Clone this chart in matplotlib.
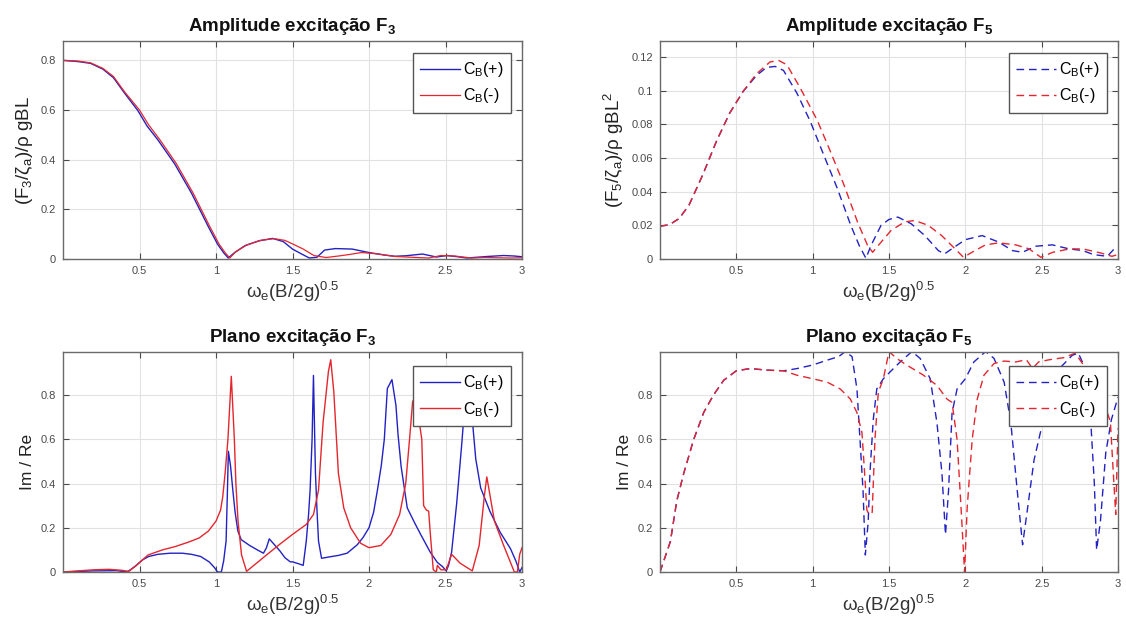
import matplotlib
matplotlib.use("Agg")
import matplotlib.pyplot as plt
import numpy as np

plt.rcParams['font.family'] = ['Liberation Sans', 'DejaVu Sans']
plt.rcParams['mathtext.fontset'] = 'custom'
plt.rcParams['mathtext.rm'] = 'Liberation Sans'
plt.rcParams['mathtext.it'] = 'Liberation Sans:italic'
plt.rcParams['mathtext.default'] = 'regular'

# ---------------- data ----------------
# Heave excitation amplitude, F3
f3_amp_x_pos = [0, 0.1, 0.18, 0.26, 0.33, 0.4, 0.49, 0.55, 0.62, 0.73, 0.84, 0.95, 1.01, 1.05, 1.08,
                1.12, 1.19, 1.28, 1.37, 1.44, 1.5, 1.56, 1.61, 1.66, 1.71, 1.78, 1.89, 2.0, 2.1, 2.17,
                2.24, 2.35, 2.44, 2.51, 2.58, 2.64, 2.77, 2.88, 2.95, 3.0]
f3_amp_pos = [0.80, 0.795, 0.788, 0.765, 0.73, 0.67, 0.597, 0.535, 0.48, 0.383, 0.265, 0.13, 0.06, 0.025,
              0.004, 0.025, 0.054, 0.073, 0.083, 0.07, 0.04, 0.02, 0.004, 0.007, 0.036, 0.042, 0.04,
              0.026, 0.016, 0.011, 0.013, 0.02, 0.008, 0.014, 0.009, 0.004, 0.01, 0.014, 0.012, 0.009]
f3_amp_x_neg = [0, 0.1, 0.18, 0.26, 0.33, 0.4, 0.5, 0.56, 0.63, 0.74, 0.85, 0.96, 1.02, 1.06, 1.09,
                1.13, 1.2, 1.29, 1.38, 1.45, 1.51, 1.57, 1.64, 1.72, 1.8, 1.87, 1.95, 2.05, 2.17, 2.28,
                2.39, 2.47, 2.56, 2.67, 2.76, 2.83, 2.93, 3.0]
f3_amp_neg = [0.80, 0.797, 0.79, 0.768, 0.735, 0.675, 0.6, 0.54, 0.483, 0.385, 0.266, 0.13, 0.06, 0.025,
              0.004, 0.03, 0.056, 0.075, 0.082, 0.075, 0.058, 0.04, 0.014, 0.006, 0.012, 0.018, 0.026,
              0.021, 0.01, 0.007, 0.004, 0.014, 0.012, 0.004, 0.006, 0.005, 0.004, 0.005]

# Pitch excitation amplitude, F5
f5_amp_x_pos = [0.0, 0.06, 0.125, 0.19, 0.28, 0.37, 0.456, 0.544, 0.632, 0.698, 0.754, 0.809, 0.897,
                0.985, 1.073, 1.162, 1.25, 1.305, 1.349, 1.382, 1.448, 1.5, 1.558, 1.646, 1.735, 1.823,
                1.863, 1.911, 2.0, 2.11, 2.22, 2.308, 2.374, 2.462, 2.57, 2.68, 2.77, 2.84, 2.93, 2.97, 3.0]
f5_amp_pos = [0.0195, 0.0203, 0.024, 0.032, 0.05, 0.07, 0.0866, 0.0995, 0.109, 0.1138, 0.1144, 0.112,
              0.0985, 0.0816, 0.0617, 0.0418, 0.0199, 0.008, 0.0004, 0.008, 0.02, 0.0235, 0.0249, 0.0209,
              0.0139, 0.005, 0.003, 0.006, 0.0115, 0.0139, 0.01, 0.005, 0.004, 0.0076, 0.0084, 0.006,
              0.005, 0.0026, 0.0016, 0.0055, 0.0065]
f5_amp_x_neg = [0.0, 0.06, 0.125, 0.19, 0.28, 0.37, 0.456, 0.544, 0.632, 0.72, 0.776, 0.831, 0.919,
                1.029, 1.117, 1.206, 1.294, 1.36, 1.393, 1.448, 1.514, 1.602, 1.668, 1.757, 1.845, 1.933,
                1.988, 2.044, 2.132, 2.22, 2.33, 2.418, 2.495, 2.573, 2.683, 2.77, 2.886, 2.96, 3.0]
f5_amp_neg = [0.0195, 0.0203, 0.024, 0.032, 0.05, 0.07, 0.0866, 0.0995, 0.110, 0.117, 0.118, 0.1154,
              0.1015, 0.0826, 0.0637, 0.0438, 0.0219, 0.008, 0.004, 0.01, 0.017, 0.022, 0.0229, 0.02,
              0.0139, 0.006, 0.001, 0.004, 0.0084, 0.0096, 0.0084, 0.006, 0.001, 0.004, 0.006, 0.006,
              0.0036, 0.0016, 0.0026]

# Im/Re ratio of F3
f3_pl_x_pos = [0, 0.2, 0.35, 0.42, 0.47, 0.52, 0.56, 0.62, 0.7, 0.78, 0.84, 0.9, 0.955, 0.99, 1.01,
               1.035, 1.05, 1.066, 1.074, 1.081, 1.095, 1.11, 1.125, 1.143, 1.165, 1.22, 1.27, 1.31,
               1.33, 1.348, 1.38, 1.418, 1.45, 1.485, 1.5, 1.537, 1.57, 1.59, 1.605, 1.615, 1.628, 1.637,
               1.644, 1.65, 1.66, 1.67, 1.69, 1.747, 1.8, 1.857, 1.923, 1.96, 2.0, 2.03, 2.055, 2.08,
               2.1, 2.12, 2.15, 2.176, 2.19, 2.21, 2.25, 2.3, 2.34, 2.4, 2.447, 2.48, 2.505, 2.52, 2.54,
               2.573, 2.607, 2.625, 2.645, 2.665, 2.675, 2.698, 2.73, 2.79, 2.857, 2.925, 2.96, 2.985, 3.0]
f3_pl_pos = [0, 0.005, 0.006, 0.0, 0.025, 0.055, 0.07, 0.08, 0.085, 0.085, 0.08, 0.07, 0.046, 0.02, 0.0,
             0.0, 0.05, 0.14, 0.35, 0.546, 0.48, 0.37, 0.27, 0.185, 0.146, 0.12, 0.1, 0.085,
             0.11, 0.15, 0.125, 0.095, 0.065, 0.046, 0.046, 0.038, 0.03, 0.14, 0.26, 0.37, 0.6, 0.889,
             0.65, 0.446, 0.28, 0.14, 0.062, 0.069, 0.075, 0.085, 0.123, 0.155, 0.2, 0.27, 0.37, 0.48,
             0.6, 0.83, 0.87, 0.754, 0.62, 0.477, 0.29, 0.22, 0.167, 0.09, 0.043, 0.025, 0.005, 0.03, 0.09,
             0.31, 0.585, 0.75, 0.85, 0.76, 0.69, 0.51, 0.38, 0.275, 0.18, 0.105, 0.05, 0.0, 0.02]
f3_pl_x_neg = [0, 0.1, 0.2, 0.3, 0.38, 0.43, 0.48, 0.556, 0.65, 0.733, 0.82, 0.89, 0.95, 1.0, 1.03,
               1.044, 1.06, 1.078, 1.1, 1.12, 1.13, 1.144, 1.167, 1.2, 1.3, 1.416, 1.5, 1.59, 1.637,
               1.67, 1.7, 1.735, 1.75, 1.77, 1.8, 1.835, 1.88, 1.945, 2.0, 2.077, 2.143, 2.2, 2.24,
               2.265, 2.285, 2.3, 2.32, 2.345, 2.357, 2.375, 2.39, 2.4, 2.42, 2.44, 2.447, 2.47, 2.505,
               2.54, 2.595, 2.675, 2.72, 2.755, 2.77, 2.79, 2.82, 2.88, 2.95, 2.97, 2.985, 3.0]
f3_pl_neg = [0, 0.005, 0.01, 0.012, 0.008, 0.003, 0.03, 0.077, 0.1, 0.115, 0.135, 0.154, 0.185, 0.23,
             0.28, 0.34, 0.45, 0.6, 0.885, 0.6, 0.4, 0.23, 0.077, 0.003, 0.06, 0.125, 0.17, 0.215, 0.26,
             0.37, 0.677, 0.908, 0.96, 0.815, 0.446, 0.29, 0.2, 0.13, 0.11, 0.12, 0.17, 0.26, 0.4,
             0.6, 0.77, 0.79, 0.72, 0.6, 0.3, 0.28, 0.275, 0.18, 0.01, 0.0, 0.03, 0.01, 0.01,
             0.08, 0.04, 0.005, 0.12, 0.35, 0.43, 0.35, 0.23, 0.12, 0.0, 0.0, 0.08, 0.11]

# Im/Re ratio of F5
f5_pl_x_pos = [0.0, 0.068, 0.11, 0.155, 0.22, 0.286, 0.35, 0.417, 0.5, 0.59, 0.7, 0.81, 0.897, 1.0,
               1.094, 1.17, 1.214, 1.258, 1.29, 1.31, 1.33, 1.345, 1.364, 1.375, 1.397, 1.42, 1.463,
               1.507, 1.573, 1.65, 1.704, 1.77, 1.814, 1.847, 1.87, 1.89, 1.913, 1.946, 2.0, 2.056,
               2.133, 2.188, 2.254, 2.298, 2.34, 2.375, 2.408, 2.45, 2.496, 2.56, 2.63, 2.7, 2.74,
               2.78, 2.82, 2.845, 2.86, 2.885, 2.92, 2.957, 3.0]
f5_pl_pos = [0.0, 0.138, 0.322, 0.445, 0.598, 0.721, 0.8, 0.867, 0.91, 0.92, 0.913, 0.91, 0.92, 0.936,
             0.958, 0.974, 0.997, 0.974, 0.828, 0.6, 0.368, 0.077, 0.23, 0.445, 0.69, 0.828, 0.874,
             0.905, 0.95, 0.997, 0.966, 0.874, 0.675, 0.445, 0.169, 0.368, 0.72, 0.828, 0.874, 0.95,
             0.997, 0.966, 0.859, 0.675, 0.368, 0.123, 0.29, 0.506, 0.644, 0.8, 0.93, 0.98, 0.99,
             0.93, 0.7, 0.4, 0.1, 0.23, 0.54, 0.69, 0.79]
f5_pl_x_neg = [0.0, 0.068, 0.11, 0.155, 0.22, 0.286, 0.35, 0.417, 0.5, 0.59, 0.7, 0.81, 0.897, 1.0,
               1.094, 1.18, 1.247, 1.29, 1.323, 1.34, 1.355, 1.37, 1.39, 1.408, 1.43, 1.463, 1.5, 1.55,
               1.616, 1.726, 1.814, 1.88, 1.913, 1.946, 1.972, 1.995, 2.012, 2.045, 2.078, 2.122,
               2.188, 2.254, 2.33, 2.4, 2.44, 2.48, 2.55, 2.65, 2.72, 2.78, 2.88, 2.95, 2.985, 3.0]
f5_pl_neg = [0.0, 0.138, 0.322, 0.445, 0.598, 0.721, 0.8, 0.867, 0.91, 0.92, 0.913, 0.91, 0.89, 0.874,
             0.859, 0.828, 0.782, 0.721, 0.629, 0.45, 0.28, 0.26, 0.27, 0.6, 0.813, 0.874, 0.997, 0.966,
             0.936, 0.89, 0.844, 0.782, 0.767, 0.598, 0.29, 0.0, 0.29, 0.6, 0.782, 0.89, 0.943, 0.954,
             0.95, 0.96, 0.92, 0.95, 0.96, 0.97, 0.99, 0.93, 0.82, 0.68, 0.26, 0.65]

x_ticks = [0.5, 1, 1.5, 2, 2.5, 3]
legend_labels = [r'C$_{B}$(+)', r'C$_{B}$(-)']

BLUE = '#2222c4'
RED = '#e4262e'
DASH = (0, (5.5, 3.5))

fig = plt.figure(figsize=(11.26, 6.31), dpi=100)
W, H = 1126.0, 631.0


def add_axes(l, t, r, b):
    return fig.add_axes([l / W, 1 - b / H, (r - l) / W, (b - t) / H])


def style(ax, ylim, yticks, title, ylabel, ylabel_size):
    ax.set_xlim(0, 3)
    ax.set_ylim(*ylim)
    ax.set_xticks(x_ticks)
    ax.set_xticklabels(['%g' % v for v in x_ticks])
    ax.set_yticks(yticks)
    ax.set_yticklabels(['%g' % v for v in yticks])
    ax.grid(True, color='#e2e2e2', lw=0.8)
    ax.set_axisbelow(True)
    ax.tick_params(direction='in', length=4, width=0.8, top=True, right=True,
                   labelsize=8, colors='#4a4a4a', pad=5)
    for s in ax.spines.values():
        s.set_color('#6a6a6a')
        s.set_linewidth(1.0)
    ax.set_title(title, fontsize=13.5, fontweight='bold', pad=7, color='#111111')
    ax.set_xlabel(r'$\omega_e$(B/2g)$^{0.5}$', fontsize=13.5, color='#333333', labelpad=3)
    ax.set_ylabel(ylabel, fontsize=ylabel_size, color='#222222', labelpad=4)


def legend(ax, anchor):
    leg = ax.legend(legend_labels, loc='upper right', bbox_to_anchor=anchor, fontsize=11.5,
                    frameon=True, fancybox=False, edgecolor='#555555', framealpha=1,
                    handlelength=2.5, handletextpad=0.2, labelspacing=0.45, borderpad=0.45,
                    borderaxespad=0)
    leg.get_frame().set_linewidth(1.0)


# Top left: amplitude of F3
ax1 = add_axes(63, 41, 522, 259)
ax1.plot(f3_amp_x_pos, f3_amp_pos, color=BLUE, lw=1.0)
ax1.plot(f3_amp_x_neg, f3_amp_neg, color=RED, lw=0.9)
style(ax1, (0, 0.878), [0, 0.2, 0.4, 0.6, 0.8], r'Amplitude excitação F$_3$',
      r'(F$_3$/$\zeta_a$)/$\rho$ gBL', 13.5)
legend(ax1, (0.976, 0.945))

# Top right: amplitude of F5
ax2 = add_axes(660, 41, 1118, 259)
ax2.plot(f5_amp_x_pos, f5_amp_pos, color=BLUE, lw=1.0, linestyle=DASH)
ax2.plot(f5_amp_x_neg, f5_amp_neg, color=RED, lw=1.0, linestyle=DASH)
style(ax2, (0, 0.1295), [0, 0.02, 0.04, 0.06, 0.08, 0.1, 0.12], r'Amplitude excitação F$_5$',
      r'(F$_5$/$\zeta_a$)/$\rho$ gBL$^2$', 13.5)
legend(ax2, (0.976, 0.945))

# Bottom left: Im/Re of F3
ax3 = add_axes(63, 352, 522, 572)
ax3.plot(f3_pl_x_pos, f3_pl_pos, color=BLUE, lw=1.0)
ax3.plot(f3_pl_x_neg, f3_pl_neg, color=RED, lw=1.0)
style(ax3, (0, 0.995), [0, 0.2, 0.4, 0.6, 0.8], r'Plano excitação F$_3$', 'Im / Re', 12.5)
legend(ax3, (0.976, 0.935))

# Bottom right: Im/Re of F5
ax4 = add_axes(660, 352, 1118, 572)
ax4.plot(f5_pl_x_pos, f5_pl_pos, color=BLUE, lw=1.0, linestyle=DASH)
ax4.plot(f5_pl_x_neg, f5_pl_neg, color=RED, lw=1.0, linestyle=DASH)
style(ax4, (0, 0.995), [0, 0.2, 0.4, 0.6, 0.8], r'Plano excitação F$_5$', 'Im / Re', 12.5)
legend(ax4, (0.976, 0.935))

fig.savefig('out.png', dpi=100, facecolor='white')
